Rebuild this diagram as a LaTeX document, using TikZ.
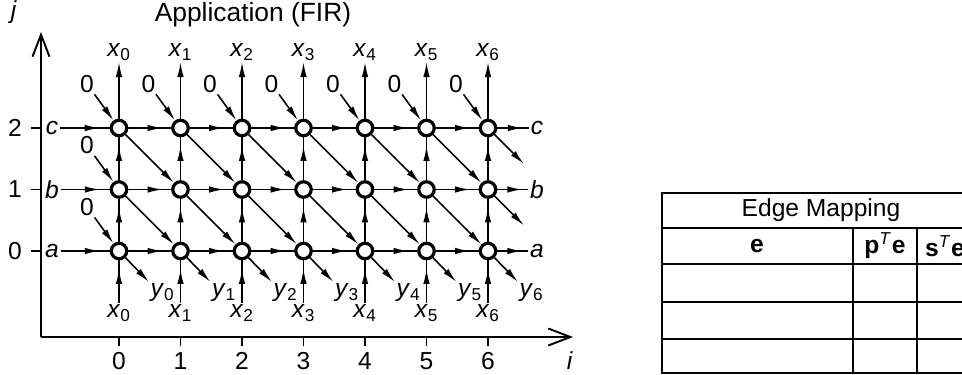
\documentclass[tikz,border=0pt]{standalone}
\usepackage{fontspec}
\setmainfont{Liberation Sans}
\usetikzlibrary{arrows.meta,decorations.markings}

\newcommand{\vr}[2]{\textit{#1}\textsubscript{#2}}

\begin{document}
\begin{tikzpicture}[>={Latex[length=0.3cm,width=0.13cm]},line width=0.9pt,
  pe/.style={circle,draw,line width=1.8pt,fill=white,minimum size=0.31cm,inner sep=0pt},
  lbl/.style={inner sep=0.5pt,font=\fontsize{14}{16}\selectfont},
  flow/.style={postaction={decorate},decoration={markings,mark=at position 0.8 with {\arrow{>}}}},
  axis/.style={line width=1.1pt,-{Straight Barb[length=0.44cm,width=0.34cm]}}]
  \useasboundingbox (-2.38,-2.48) rectangle (16.86,5.02);
  \clip (-2.38,-2.48) rectangle (16.86,5.02);

  \node[font=\fontsize{15}{18}\selectfont] (title) at (2.68,4.72) {Application (FIR)};

  % axes
  \coordinate (O) at (-1.56,-1.72);
  \coordinate (jend) at (-1.56,4.38);
  \coordinate (iend) at (9.08,-1.72);
  \draw[axis] (O) -- (jend);
  \draw[axis] (O) -- (iend);
  \node[lbl] (jl) at (-2.1,4.78) {\textit{j}};
  \node[lbl] (il) at (9.02,-2.2) {\textit{i}};
  \foreach \j in {0,1,2} {
    \draw (-1.76,1.23*\j) -- (-1.56,1.23*\j);
    \node[lbl] (tj\j) at (-2.08,1.23*\j) {\j};
  }
  \foreach \i in {0,...,6} {
    \draw (1.23*\i,-1.72) -- (1.23*\i,-1.9);
    \node[lbl] (ti\i) at (1.23*\i,-2.2) {\i};
  }

  % processing elements
  \foreach \i in {0,...,6}
    \foreach \j in {0,1,2}
      \node[pe] (n\i\j) at (1.23*\i,1.23*\j) {};

  \foreach \i/\k in {0/1,1/2,2/3,3/4,4/5,5/6} {
    \foreach \j in {0,1,2}
      \draw[flow] (n\i\j) -- (n\k\j);
    \draw[->] (n\i2) -- (n\k1);
    \draw[->] (n\i1) -- (n\k0);
  }
  \foreach \i in {0,...,6} {
    \draw[flow] (n\i0) -- (n\i1);
    \draw[flow] (n\i1) -- (n\i2);
    \node[lbl,anchor=south] (xt\i) at (1.23*\i,3.78) {\vr{x}{\i}};
    \draw[->] (n\i2) -- (xt\i);
    \node[lbl] (z\i) at (1.23*\i-0.64,3.34) {0};
    \draw[->] (z\i) -- (n\i2);
    \node[lbl,anchor=north] (xb\i) at (1.23*\i,-1.04) {\vr{x}{\i}};
    \draw[flow] (xb\i) -- (n\i0);
    \node[lbl,anchor=north west] (y\i) at (1.23*\i+0.6,-0.62) {\vr{y}{\i}};
    \draw[->] (n\i0) -- (y\i.north west);
  }
  \node[lbl] (zb) at (-0.64,2.11) {0};
  \draw[->] (zb) -- (n01);
  \node[lbl] (za) at (-0.64,0.88) {0};
  \draw[->] (za) -- (n00);

  % row inputs and outputs
  \foreach \r/\j in {a/0,b/1,c/2} {
    \node[lbl] (l\r) at (-1.34,1.23*\j) {\textit{\r}};
    \draw[flow] (l\r) -- (n0\j);
    \node[lbl] (r\r) at (8.36,1.23*\j) {\textit{\r}};
    \draw[flow] (n6\j) -- (r\r);
  }
  \coordinate (d2) at (8.1,1.74);
  \coordinate (d1) at (8.1,0.51);
  \draw[->] (n62) -- (d2);
  \draw[->] (n61) -- (d1);

  % edge mapping table
  \draw[line width=1.1pt] (10.86,-2.44) rectangle (17.22,1.16);
  \draw[line width=1.1pt] (10.86,0.46) -- (17.22,0.46);
  \draw[line width=1.1pt] (10.86,-0.26) -- (17.22,-0.26);
  \draw[line width=0.6pt] (10.86,-1.02) -- (17.22,-1.02);
  \draw[line width=0.6pt] (10.86,-1.76) -- (17.22,-1.76);
  \draw[line width=0.9pt] (14.68,0.46) -- (14.68,-2.44);
  \draw[line width=0.9pt] (15.96,0.46) -- (15.96,-2.44);
  \node[lbl] (tt) at (14.04,0.82) {Edge Mapping};
  \node[lbl] (he) at (12.76,0.1) {\textbf{e}};
  \node[lbl] (hp) at (15.32,0.1) {\textbf{p}\textsuperscript{\textit{T}}\textbf{e}};
  \node[lbl] (hs) at (16.52,0.1) {\textbf{s}\textsuperscript{\textit{T}}\textbf{e}};
\end{tikzpicture}
\end{document}
